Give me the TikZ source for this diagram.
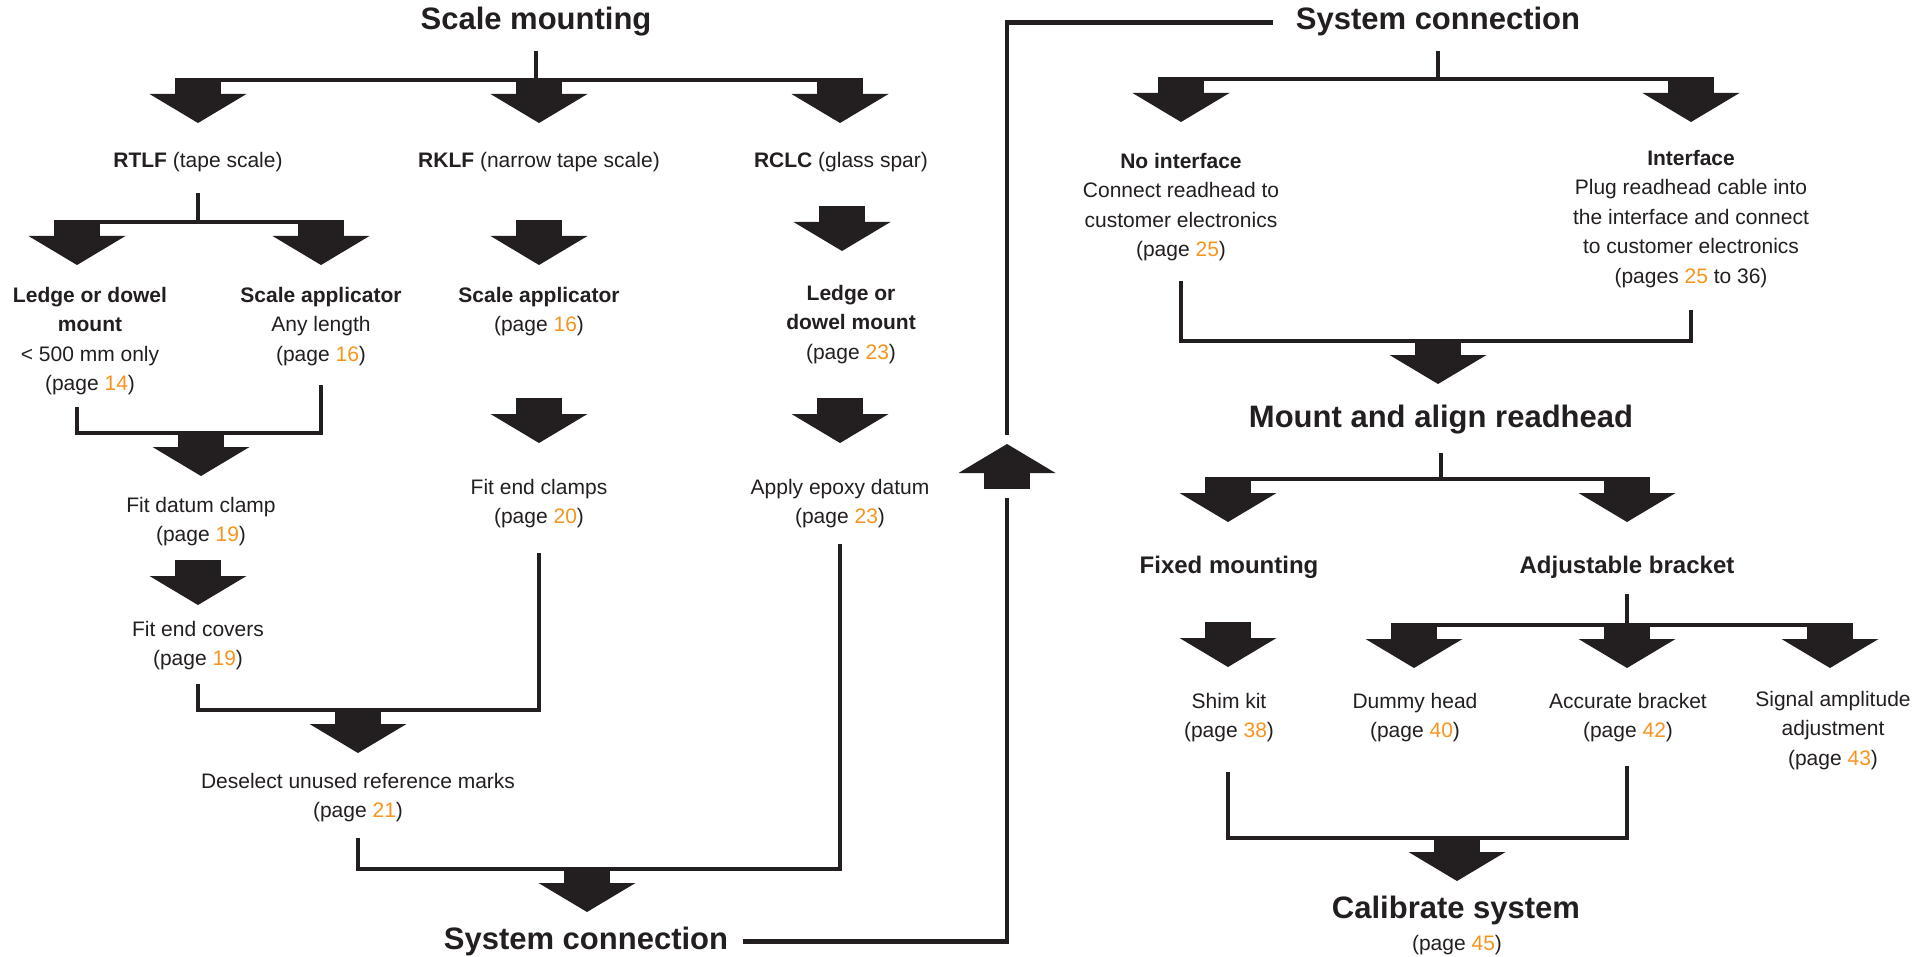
\documentclass[tikz,border=0pt]{standalone}
\usepackage{fontspec}
\setmainfont{Liberation Sans}
\usepackage{color}
\usepackage{tikz}
\definecolor{ink}{HTML}{231F20}
\definecolor{pgorange}{HTML}{F7941D}
\newcommand{\pnum}[1]{\textcolor{pgorange}{#1}}
\tikzset{blockdown/.pic={
  \fill[ink] (-23,-45) rectangle (23,-28.5);
  \fill[ink] (-48.5,-29) -- (48.5,-29) -- (0,0) -- cycle;
  \coordinate (-tip) at (0,0);
  \coordinate (-top) at (0,-43);
  \coordinate (-tl) at (-23,-43);
  \coordinate (-tr) at (23,-43);
}}

\begin{document}
\begin{tikzpicture}[x=1pt,y=-1pt,
  link/.style={draw=ink,line width=4.7pt},
  ttl/.style={font=\bfseries\fontsize{31}{37}\selectfont,text=ink,anchor=base,inner sep=0pt},
  sub/.style={font=\bfseries\fontsize{24}{29.5}\selectfont,text=ink,anchor=base,inner sep=0pt},
  txt/.style={font=\fontsize{21}{29.5}\selectfont,text=ink,align=center,anchor=north,inner sep=0pt}]

\useasboundingbox (0,0) rectangle (1913,957);

%Scale mounting
\node[ttl] (sm) at (536,30) {Scale mounting\strut};
\pic (a-rtlf) at (198,123) {blockdown};
\pic (a-rklf) at (539,123) {blockdown};
\pic (a-rclc) at (840,123) {blockdown};
\draw[link,shorten <=10pt] (sm.south) -- (sm.south |- a-rklf-top);
\draw[link] (a-rtlf-tl) -- (a-rclc-tr);
\node[txt] (rtlf) at (198,146.35) {\textbf{RTLF} (tape scale)\strut};
\node[txt] (rklf) at (539,146.35) {\textbf{RKLF} (narrow tape scale)\strut};
\node[txt] (rclc) at (841,146.35) {\textbf{RCLC} (glass spar)\strut};

%RTLF
\pic (a-ledge1) at (77,265) {blockdown};
\pic (a-sapp1) at (321,265) {blockdown};
\draw[link,shorten <=17pt] (rtlf.south) -- (rtlf.south |- a-ledge1-top);
\draw[link] (a-ledge1-tl) -- (a-sapp1-tr);
\node[txt] (ledge1) at (90,281.35) {\strut\textbf{Ledge or dowel}\\\textbf{mount}\\< 500 mm only\\(page \pnum{14})\strut};
\node[txt] (sapp1) at (321,281.35) {\strut\textbf{Scale applicator}\\Any length\\(page \pnum{16})\strut};
\pic (a-datum) at (201,476) {blockdown};
\draw[link,shorten <=7.6pt,shorten >=15pt] (a-ledge1-top |- ledge1.south) |- (a-datum-top) -| (a-sapp1-top |- sapp1.south);
\node[txt] (datum) at (201,491.35) {\strut Fit datum clamp\\(page \pnum{19})\strut};
\pic (a-covers) at (198,605) {blockdown};
\node[txt] (covers) at (198,615.35) {\strut Fit end covers\\(page \pnum{19})\strut};

%RKLF
\pic (a-sapp2) at (539,265) {blockdown};
\node[txt] (sapp2) at (539,281.35) {\strut\textbf{Scale applicator}\\(page \pnum{16})\strut};
\pic (a-clamps) at (539,443) {blockdown};
\node[txt] (clamps) at (539,473.35) {\strut Fit end clamps\\(page \pnum{20})\strut};

%RCLC
\pic (a-ledge2) at (842,251) {blockdown};
\node[txt] (ledge2) at (851,279.35) {\strut\textbf{Ledge or}\\\textbf{dowel mount}\\(page \pnum{23})\strut};
\pic (a-epoxy) at (840,443) {blockdown};
\node[txt] (epoxy) at (840,473.35) {\strut Apply epoxy datum\\(page \pnum{23})\strut};

%Deselect
\pic (a-desel) at (358,753) {blockdown};
\draw[link,shorten <=9.6pt,shorten >=20.6pt] (a-covers-top |- covers.south) |- (a-desel-top) -| (a-clamps-top |- clamps.south);
\node[txt] (desel) at (358,767.35) {\strut Deselect unused reference marks\\(page \pnum{21})\strut};
\pic (a-sc2) at (587,912) {blockdown};
\draw[link,shorten <=11.6pt,shorten >=11.6pt] (a-desel-top |- desel.south) |- (a-sc2-top) -| (a-epoxy-top |- epoxy.south);
\node[ttl] (sc2) at (586,949) {System connection\strut};

%back up
\pic[rotate=180] (a-back) at (1007,444) {blockdown};
\node[ttl] (sc1) at (1438,30) {System connection\strut};
\draw[link,shorten <=15pt,shorten >=11pt] (sc2.east) -| (a-back-top);
\draw[link,shorten <=9pt,shorten >=23pt] (a-back-tip) |- (sc1.west);

%System connection
\pic (a-noif) at (1181,122) {blockdown};
\pic (a-iface) at (1691,122) {blockdown};
\draw[link,shorten <=10pt] (sc1.south) -- (sc1.south |- a-noif-top);
\draw[link] (a-noif-tl) -- (a-iface-tr);
\node[txt] (noif) at (1181,147.35) {\strut\textbf{No interface}\\Connect readhead to\\customer electronics\\(page \pnum{25})\strut};
\node[txt] (iface) at (1691,144.35) {\strut\textbf{Interface}\\Plug readhead cable into\\the interface and connect\\to customer electronics\\(pages \pnum{25} to 36)\strut};
\pic (a-mar) at (1438,384) {blockdown};
\draw[link,shorten <=15.6pt,shorten >=18pt] (a-noif-top |- noif.south) |- (a-mar-top) -| (a-iface-top |- iface.south);

%Mount and align readhead
\node[ttl] (mar) at (1441,427) {Mount and align readhead\strut};
\pic (a-fixed) at (1228,522) {blockdown};
\pic (a-adjust) at (1627,522) {blockdown};
\draw[link,shorten <=15pt] (mar.south) -- (mar.south |- a-fixed-top);
\draw[link] (a-fixed-tl) -- (a-adjust-tr);
\node[sub] (fixed) at (1229,573) {Fixed mounting\strut};
\node[sub] (adjust) at (1627,573) {Adjustable bracket\strut};

%Fixed / adjustable
\pic (a-shim) at (1228,667) {blockdown};
\pic (a-dummy) at (1414,668) {blockdown};
\pic (a-accur) at (1627,668) {blockdown};
\pic (a-signal) at (1830,668) {blockdown};
\draw[link,shorten <=12pt] (adjust.south) -- (adjust.south |- a-dummy-top);
\draw[link] (a-dummy-tl) -- (a-signal-tr);
\node[txt] (shim) at (1229,687.35) {\strut Shim kit\\(page \pnum{38})\strut};
\node[txt] (dummy) at (1415,687.35) {\strut Dummy head\\(page \pnum{40})\strut};
\node[txt] (accur) at (1628,687.35) {\strut Accurate bracket\\(page \pnum{42})\strut};
\node[txt] (signal) at (1833,685.35) {\strut Signal amplitude\\adjustment\\(page \pnum{43})\strut};

%Calibrate system
\pic (a-cal) at (1457,881) {blockdown};
\draw[link,shorten <=25.6pt,shorten >=19.6pt] (a-shim-top |- shim.south) |- (a-cal-top) -| (a-accur-top |- accur.south);
\node[ttl] (cal) at (1456,918) {Calibrate system\strut};
\node[txt] (calpg) at (1457,929.35) {(page \pnum{45})\strut};

\end{tikzpicture}
\end{document}
